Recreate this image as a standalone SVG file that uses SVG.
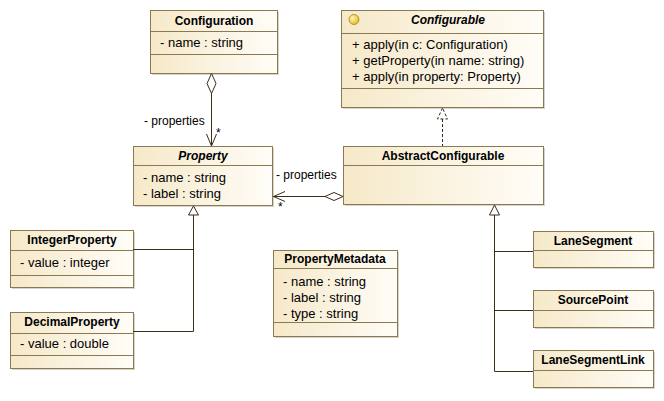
<svg xmlns="http://www.w3.org/2000/svg" width="664" height="401" viewBox="0 0 664 401">
<defs>
<linearGradient id="g" x1="0" y1="0" x2="1" y2="0">
<stop offset="0" stop-color="#f6e9c9"/>
<stop offset="1" stop-color="#fffdf8"/>
</linearGradient>
<radialGradient id="ic" cx="0.35" cy="0.35" r="0.7">
<stop offset="0" stop-color="#fff7b0"/>
<stop offset="1" stop-color="#e8b820"/>
</radialGradient>
</defs>
<style>
.box{fill:url(#g);stroke:#8a7a52;stroke-width:1}
.sh{fill:#d8d4cc}
.sep{stroke:#8a7a52;stroke-width:1}
.t{font-family:"Liberation Sans",Arial,sans-serif;font-size:13px;fill:#000}
.b{font-weight:bold;text-anchor:middle;font-size:12px}
.i{font-style:italic}
.lb{font-size:12px}
.ln{fill:none;stroke:#3a2e1a;stroke-width:1}
.dash{stroke-dasharray:3,2}
.hd{fill:#fff;stroke:#3a2e1a;stroke-width:1}
</style>
<rect width="664" height="401" fill="#fff"/>

<g id="Configuration">
<rect class="sh" x="152" y="12" width="127" height="63"/>
<rect class="box" x="150.5" y="10.5" width="127" height="63"/>
<line class="sep" x1="150.5" y1="31.5" x2="277.5" y2="31.5"/>
<line class="sep" x1="150.5" y1="54.5" x2="277.5" y2="54.5"/>
<text class="t b" x="214" y="25">Configuration</text>
<text class="t" x="160" y="47">- name : string</text>
</g>

<g id="Configurable">
<rect class="sh" x="343" y="12" width="202" height="97"/>
<rect class="box" x="341.5" y="10.5" width="202" height="97"/>
<line class="sep" x1="341.5" y1="33.5" x2="543.5" y2="33.5"/>
<line class="sep" x1="341.5" y1="88.5" x2="543.5" y2="88.5"/>
<circle cx="354" cy="19.5" r="5" fill="url(#ic)" stroke="#a08020" stroke-width="0.8"/>
<text class="t b i" x="448" y="24">Configurable</text>
<text class="t" x="352" y="49">+ apply(in c: Configuration)</text>
<text class="t" x="352" y="65">+ getProperty(in name: string)</text>
<text class="t" x="352" y="81">+ apply(in property: Property)</text>
</g>

<g id="Property">
<rect class="sh" x="135" y="148" width="139" height="59"/>
<rect class="box" x="133.5" y="146.5" width="139" height="59"/>
<line class="sep" x1="133.5" y1="165.5" x2="272.5" y2="165.5"/>
<text class="t b i" x="203" y="160">Property</text>
<text class="t" x="143" y="182">- name : string</text>
<text class="t" x="143" y="198">- label : string</text>
</g>

<g id="AbstractConfigurable">
<rect class="sh" x="345" y="148" width="200" height="58"/>
<rect class="box" x="343.5" y="146.5" width="200" height="58"/>
<line class="sep" x1="343.5" y1="165.5" x2="543.5" y2="165.5"/>
<text class="t b" x="443" y="160">AbstractConfigurable</text>
</g>

<g id="IntegerProperty">
<rect class="sh" x="12" y="232" width="123" height="57"/>
<rect class="box" x="10.5" y="230.5" width="123" height="57"/>
<line class="sep" x1="10.5" y1="250.5" x2="133.5" y2="250.5"/>
<line class="sep" x1="10.5" y1="275.5" x2="133.5" y2="275.5"/>
<text class="t b" x="72" y="244">IntegerProperty</text>
<text class="t" x="20" y="267">- value : integer</text>
</g>

<g id="DecimalProperty">
<rect class="sh" x="12" y="314" width="123" height="56"/>
<rect class="box" x="10.5" y="312.5" width="123" height="56"/>
<line class="sep" x1="10.5" y1="333.5" x2="133.5" y2="333.5"/>
<line class="sep" x1="10.5" y1="355.5" x2="133.5" y2="355.5"/>
<text class="t b" x="72" y="326">DecimalProperty</text>
<text class="t" x="20" y="348">- value : double</text>
</g>

<g id="PropertyMetadata">
<rect class="sh" x="275" y="252" width="124" height="86"/>
<rect class="box" x="273.5" y="250.5" width="124" height="86"/>
<line class="sep" x1="273.5" y1="268.5" x2="397.5" y2="268.5"/>
<line class="sep" x1="273.5" y1="322.5" x2="397.5" y2="322.5"/>
<text class="t b" x="335" y="263">PropertyMetadata</text>
<text class="t" x="283" y="286">- name : string</text>
<text class="t" x="283" y="302">- label : string</text>
<text class="t" x="283" y="318">- type : string</text>
</g>

<g id="LaneSegment">
<rect class="sh" x="535" y="233" width="120" height="36"/>
<rect class="box" x="533.5" y="231.5" width="120" height="36"/>
<line class="sep" x1="533.5" y1="250.5" x2="653.5" y2="250.5"/>
<text class="t b" x="593" y="245">LaneSegment</text>
</g>

<g id="SourcePoint">
<rect class="sh" x="535" y="292" width="120" height="37"/>
<rect class="box" x="533.5" y="290.5" width="120" height="37"/>
<line class="sep" x1="533.5" y1="310.5" x2="653.5" y2="310.5"/>
<text class="t b" x="593" y="304">SourcePoint</text>
</g>

<g id="LaneSegmentLink">
<rect class="sh" x="535" y="352" width="120" height="37"/>
<rect class="box" x="533.5" y="350.5" width="120" height="37"/>
<line class="sep" x1="533.5" y1="370.5" x2="653.5" y2="370.5"/>
<text class="t b" x="593" y="364">LaneSegmentLink</text>
</g>

<g id="connectors">
<polyline class="ln" points="211.5,93 211.5,146"/>
<polygon class="hd" points="211.5,73.5 216,83.5 211.5,93.5 207,83.5"/>
<polyline class="ln" points="206.5,134 211.5,146 216.5,134"/>
<text class="t lb" x="144" y="125">- properties</text>
<text class="t lb" x="216" y="137">*</text>

<line class="ln" x1="273" y1="196.5" x2="325" y2="196.5"/>
<polygon class="hd" points="343,196.5 334,192.5 325,196.5 334,200.5"/>
<polyline class="ln" points="285,191.5 273.5,196.5 285,201.5"/>
<text class="t lb" x="276" y="179">- properties</text>
<text class="t lb" x="278" y="211">*</text>

<line class="ln dash" x1="442.5" y1="119" x2="442.5" y2="146"/>
<polygon class="hd dash" points="442.5,108 437.5,119 447.5,119"/>

<polyline class="ln" points="133,249.5 193.5,249.5"/>
<polyline class="ln" points="133,331.5 193.5,331.5 193.5,215"/>
<polygon class="hd" points="193.5,206 188.5,215 198.5,215"/>

<polyline class="ln" points="494.5,215 494.5,371.5 533,371.5"/>
<line class="ln" x1="494.5" y1="251.5" x2="533" y2="251.5"/>
<line class="ln" x1="494.5" y1="310.5" x2="533" y2="310.5"/>
<polygon class="hd" points="494.5,205 489.5,215 499.5,215"/>
</g>
</svg>
